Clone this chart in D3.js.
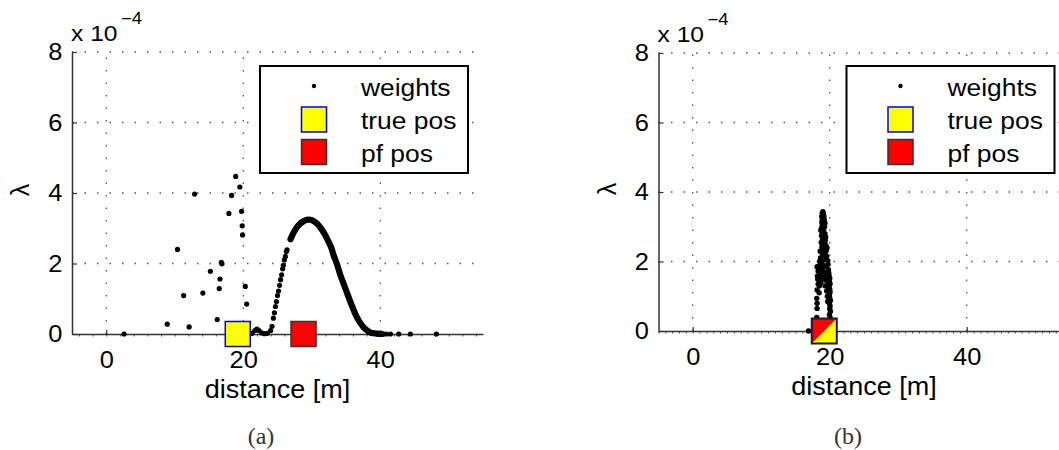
<!DOCTYPE html>
<html>
<head>
<meta charset="utf-8">
<script src="https://cdn.jsdelivr.net/npm/d3@7"></script>
<style>
  html, body { margin: 0; padding: 0; background: #fff; }
  svg { display: block; }
</style>
</head>
<body>
<svg id="chart" width="1059" height="450"></svg>
<script>
// ---------- data (distance in m, weight λ in units of 1e-4) ----------
const xTicks = [0, 20, 40];
const yTicks = [0, 2, 4, 6, 8];
const legendLabels = ["weights", "true pos", "pf pos"];
const captions = ["(a)", "(b)"];

// (a) scattered particles left of the true position and on the axis
const aSparseX = [2.6, 8.9, 12.1, 10.4, 11.3, 12.9, 14.1, 15.2, 16.2, 16.5, 16.6, 16.8, 16.9,
                  17.9, 18.3, 18.9, 19.5, 19.75, 19.85, 19.9, 20.3, 20.5,
                  40.0, 40.5, 40.9, 41.5, 42.7, 44.4, 48.2];
const aSparseY = [0.0, 0.28, 0.2, 2.4, 1.09, 3.97, 1.16, 1.78, 0.41, 1.29, 1.56, 2.03, 1.99,
                  3.42, 3.93, 4.47, 4.17, 3.48, 3.07, 2.81, 1.35, 0.85,
                  0.0, 0.0, 0.0, 0.0, 0.0, 0.0, 0.0];
// (a) rising flank of the particle cloud
const aRiseX = [21.3, 21.7, 22.0, 22.3, 22.7, 23.1, 23.5, 24.0, 24.2, 24.4, 24.55, 24.7, 24.85,
                25.0, 25.15, 25.3, 25.45, 25.6, 25.75, 25.85, 26.0, 26.15, 26.3, 26.4];
const aRiseY = [0.02, 0.1, 0.14, 0.1, 0.03, 0.01, 0.02, 0.1, 0.22, 0.45, 0.6, 0.78, 0.92,
                1.09, 1.22, 1.38, 1.54, 1.68, 1.85, 1.95, 2.1, 2.2, 2.34, 2.39];
// (a) dense hump of the particle cloud
const aHumpX = [26.9, 27.2, 27.6, 28.0, 28.4, 28.9, 29.3, 29.8, 30.3, 30.8, 31.3, 31.8, 32.3,
                32.8, 33.2, 33.7, 34.2, 34.7, 35.2, 35.7, 36.1, 36.6, 37.1, 37.6, 38.1, 38.6,
                39.1, 39.6, 40.2];
const aHumpY = [2.69, 2.82, 2.96, 3.07, 3.15, 3.21, 3.24, 3.24, 3.2, 3.13, 3.01, 2.86, 2.68,
                2.47, 2.23, 1.97, 1.66, 1.4, 1.14, 0.88, 0.69, 0.47, 0.31, 0.18, 0.1, 0.04,
                0.02, 0.01, 0.0];

// (b) converged particle cloud
const bSpikeX = [19.0, 18.9, 19.1, 18.85, 19.15, 18.9, 19.2, 18.85, 19.1, 18.9, 19.25, 18.8, 19.1,
                 18.9, 19.3, 18.8, 19.15, 18.95, 19.35, 18.75, 19.2, 19.45, 18.85, 19.05, 19.5,
                 18.7, 19.3, 18.95, 19.55, 18.65, 19.4, 19.7, 18.8, 19.75, 18.55, 19.5, 18.9,
                 19.8, 18.3, 19.85,
                 19.9, 20.0, 19.95, 20.05, 19.9, 20.0, 20.05, 19.95, 20.0, 20.1, 19.95, 20.05,
                 20.0, 20.1, 20.05, 19.95,
                 18.15, 18.2, 18.25, 18.3, 18.15, 18.1, 18.15, 18.15, 18.1,
                 19.4, 19.5, 19.6, 19.55, 19.65, 19.7, 18.95, 18.7, 18.1, 20.0, 16.9,
                 18.5, 18.45, 18.6, 18.4, 18.5, 18.45, 19.0, 19.1, 19.25, 19.3, 19.75, 19.8,
                 19.85, 19.85, 19.9, 18.6, 19.6, 19.4, 18.7, 19.3];
const bSpikeY = [3.43, 3.38, 3.37, 3.3, 3.29, 3.22, 3.2, 3.13, 3.1, 3.04, 3.0, 2.95, 2.9,
                 2.84, 2.8, 2.74, 2.69, 2.63, 2.6, 2.55, 2.5, 2.46, 2.42, 2.36, 2.32,
                 2.28, 2.24, 2.18, 2.15, 2.1, 2.06, 2.02, 1.98, 1.92, 1.88, 1.85, 1.8,
                 1.76, 1.72, 1.68,
                 1.6, 1.52, 1.44, 1.36, 1.28, 1.2, 1.12, 1.04, 0.96, 0.88, 0.8, 0.72,
                 0.64, 0.56, 0.39, 0.47,
                 1.85, 1.58, 1.49, 1.35, 1.18, 0.94, 0.8, 0.65, 0.39,
                 1.6, 1.45, 1.3, 1.15, 1.0, 0.85, 1.55, 1.4, 0.3, 0.3, 0.0,
                 2.0, 1.75, 1.6, 1.5, 1.3, 1.1, 1.9, 1.7, 1.5, 1.3, 1.5, 1.35,
                 1.2, 1.0, 0.85, 2.3, 2.4, 2.7, 2.9, 3.1];

// estimated and true positions
const truePos = [19.2, 19.2];
const pfPos = [28.8, 19.2];

// ---------- drawing ----------
const svg = d3.select("#chart");
const FONT = "'Liberation Sans', Arial, Helvetica, sans-serif";

const panels = [
  { x0: 72,    x1: 483,    yTop: 52, yBot: 334 },
  { x0: 658.5, x1: 1069.5, yTop: 53, yBot: 331 }
];

function stretchedText(g, x, y, str, size, anchor, sx) {
  return g.append("text")
    .attr("transform", `translate(${x},${y}) scale(${sx},1)`)
    .attr("text-anchor", anchor)
    .attr("font-family", FONT)
    .attr("font-size", size)
    .attr("fill", "#000")
    .text(str);
}

panels.forEach((p, i) => {
  const g = svg.append("g");
  const x = d3.scaleLinear().domain([-5, 55]).range([p.x0, p.x1]);
  const y = d3.scaleLinear().domain([0, 8]).range([p.yBot, p.yTop]);

  // dotted grid
  const grid = g.append("g")
    .attr("stroke", "#555").attr("stroke-width", 1.3)
    .attr("stroke-dasharray", "1.5,11");
  grid.selectAll(".gx").data(xTicks).join("line")
    .attr("x1", d => x(d)).attr("x2", d => x(d))
    .attr("y1", p.yBot).attr("y2", p.yTop);
  grid.selectAll(".gy").data(yTicks.filter(d => d > 0)).join("line")
    .attr("x1", p.x0).attr("x2", p.x1)
    .attr("y1", d => y(d)).attr("y2", d => y(d));

  // minor marks along the distance axis
  g.append("g").attr("transform", `translate(0,${p.yBot})`)
    .call(d3.axisBottom(x).ticks(i === 0 ? 30 : 48).tickSize(2.5).tickSizeOuter(0).tickFormat(""))
    .call(a => a.select(".domain").remove())
    .selectAll(".tick line").attr("stroke", "#444").attr("stroke-width", 1);

  // axes
  const xAxis = g.append("g").attr("transform", `translate(0,${p.yBot})`)
    .call(d3.axisBottom(x).tickValues(xTicks).tickSize(-4).tickSizeOuter(0).tickPadding(17));
  const yAxis = g.append("g").attr("transform", `translate(${p.x0},0)`)
    .call(d3.axisLeft(y).tickValues(yTicks).tickSize(-5).tickSizeOuter(0).tickPadding(9));
  [xAxis, yAxis].forEach(a => {
    a.select(".domain").attr("stroke", "#333").attr("stroke-width", 1.5);
    a.selectAll(".tick line").attr("stroke", "#333").attr("stroke-width", 1.2);
    a.selectAll(".tick text").attr("font-family", FONT).attr("font-size", 24)
      .attr("fill", "#000").attr("transform", "scale(1.06,1)");
  });

  // axis labels
  stretchedText(g, (p.x0 + p.x1) / 2, p.yBot + 64, "distance [m]", 25, "middle", 1.08);
  g.append("text")
    .attr("transform", `translate(${p.x0 - 43},${(p.yTop + p.yBot) / 2 - 3}) rotate(-90)`)
    .attr("text-anchor", "middle").attr("font-family", FONT).attr("font-size", 25)
    .text("λ");
  stretchedText(g, p.x0 - 1, p.yTop - 11, "x 10", 22, "start", 1.12);
  stretchedText(g, p.x0 + 49, p.yTop - 28, "\u22124", 16, "start", 1.15);

  // particles
  if (i === 0) {
    const hump = aHumpX.map((v, k) => [v, aHumpY[k]]);
    g.append("path")
      .datum(hump)
      .attr("fill", "none").attr("stroke", "#000").attr("stroke-width", 6.2)
      .attr("stroke-linecap", "round").attr("stroke-linejoin", "round")
      .attr("d", d3.line().x(d => x(d[0])).y(d => y(d[1])).curve(d3.curveCatmullRom));
    const pts = hump
      .concat(aRiseX.map((v, k) => [v, aRiseY[k]]))
      .concat(aSparseX.map((v, k) => [v, aSparseY[k]]));
    g.append("g").attr("fill", "#000").selectAll("circle").data(pts).join("circle")
      .attr("cx", d => x(d[0])).attr("cy", d => y(d[1])).attr("r", 2.6);
  } else {
    const pts = bSpikeX.map((v, k) => [v, bSpikeY[k]]);
    g.append("g").attr("fill", "#000").selectAll("circle").data(pts).join("circle")
      .attr("cx", d => x(d[0])).attr("cy", d => y(d[1])).attr("r", 2.7);
  }

  // position markers
  const s = 25;
  const tx = x(truePos[i]), px = x(pfPos[i]), y0 = y(0);
  if (i === 0) {
    g.append("rect").attr("x", tx - s / 2).attr("y", y0 - s / 2).attr("width", s).attr("height", s)
      .attr("fill", "#ffff00").attr("stroke", "#0000ff").attr("stroke-width", 1.5);
    g.append("rect").attr("x", px - s / 2).attr("y", y0 - s / 2).attr("width", s).attr("height", s)
      .attr("fill", "#ff0000").attr("stroke", "#333").attr("stroke-width", 1.5);
  } else {
    g.append("rect").attr("x", tx - s / 2).attr("y", y0 - s / 2).attr("width", s).attr("height", s)
      .attr("fill", "#ffff00");
    g.append("path")
      .attr("d", `M${px - s / 2},${y0 - s / 2}L${px + s / 2},${y0 - s / 2}L${px - s / 2},${y0 + s / 2}Z`)
      .attr("fill", "#ff0000");
    g.append("rect").attr("x", px - s / 2).attr("y", y0 - s / 2).attr("width", s).attr("height", s)
      .attr("fill", "none").attr("stroke", "#1a1a3a").attr("stroke-width", 2);
  }

  // legend
  const lx = p.x0 + 188, ly = 66, lw = 208, lh = 107;
  const lg = g.append("g");
  lg.append("rect").attr("x", lx).attr("y", ly).attr("width", lw).attr("height", lh)
    .attr("fill", "#fff").attr("stroke", "#000").attr("stroke-width", 2);
  const mx = lx + 54;
  const rowY = [ly + 20, ly + 53.5, ly + 86];
  lg.append("circle").attr("cx", mx).attr("cy", rowY[0]).attr("r", 2.2).attr("fill", "#000");
  lg.append("rect").attr("x", mx - 12.5).attr("y", rowY[1] - 12.5).attr("width", 25).attr("height", 25)
    .attr("fill", "#ffff00").attr("stroke", "#0000ff").attr("stroke-width", 1.5);
  lg.append("rect").attr("x", mx - 12.5).attr("y", rowY[2] - 12.5).attr("width", 25).attr("height", 25)
    .attr("fill", "#ff0000").attr("stroke", "#333").attr("stroke-width", 1.5);
  legendLabels.forEach((t, k) => stretchedText(lg, lx + 101, rowY[k] + 9.5, t, 24, "start", 1.1));

  // caption
  svg.append("text")
    .attr("x", i === 0 ? 261 : 848).attr("y", 444)
    .attr("text-anchor", "middle").attr("font-family", "'Liberation Serif', 'Times New Roman', serif")
    .attr("font-size", 24).attr("fill", "#333")
    .text(captions[i]);
});
</script>
</body>
</html>
